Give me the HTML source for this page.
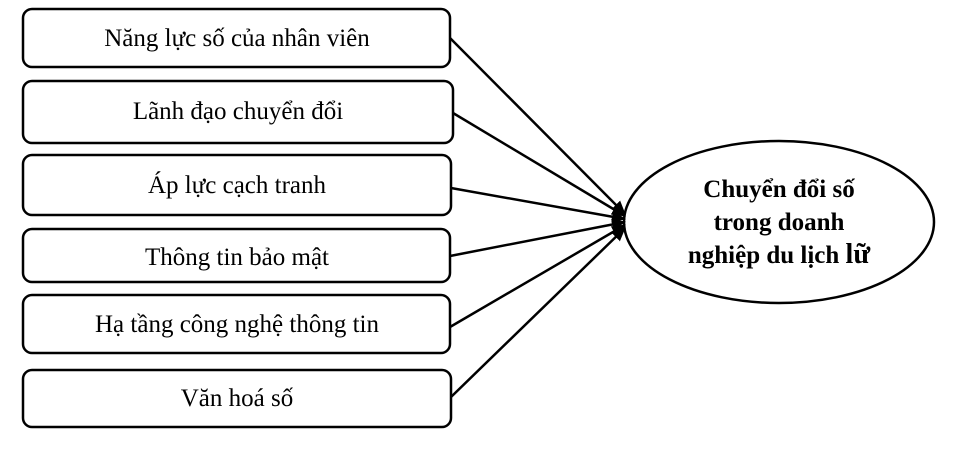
<!DOCTYPE html>
<html><head><meta charset="utf-8"><style>
html,body{margin:0;padding:0;background:#fff;}
svg{display:block;}
text{font-family:"Liberation Serif",serif;fill:#000;}
</style></head><body>
<svg width="963" height="468" viewBox="0 0 963 468">
<defs><marker id="a" markerWidth="14" markerHeight="12" refX="13" refY="6" orient="auto" markerUnits="userSpaceOnUse"><path d="M0,0 L14,6 L0,12 z" fill="#000"/></marker></defs>
<g fill="#fff" stroke="#000" stroke-width="2.5">
<rect x="23" y="9" width="427" height="58" rx="9"/>
<rect x="23" y="81" width="430" height="62" rx="9"/>
<rect x="23" y="155" width="428" height="60" rx="9"/>
<rect x="23" y="229" width="427" height="53" rx="9"/>
<rect x="23" y="295" width="427" height="58" rx="9"/>
<rect x="23" y="370" width="428" height="57" rx="9"/>
<ellipse cx="779" cy="222" rx="155" ry="81"/>
</g>
<g stroke="#000" stroke-width="2.5" marker-end="url(#a)">
<line x1="450" y1="38" x2="625" y2="214"/>
<line x1="453" y1="113" x2="625" y2="216"/>
<line x1="451" y1="188" x2="625" y2="219"/>
<line x1="450" y1="256" x2="625" y2="222"/>
<line x1="450" y1="327" x2="625" y2="225"/>
<line x1="451" y1="397" x2="625" y2="228"/>
</g>
<g font-size="25" text-anchor="middle">
<text x="237" y="46">Năng lực số của nhân viên</text>
<text x="238" y="119">Lãnh đạo chuyển đổi</text>
<text x="237" y="193">Áp lực cạch tranh</text>
<text x="237" y="265">Thông tin bảo mật</text>
<text x="237" y="332">Hạ tầng công nghệ thông tin</text>
<text x="237" y="406">Văn hoá số</text>
</g>
<g font-size="25" font-weight="bold" text-anchor="middle">
<text x="779" y="197">Chuyển đổi số</text>
<text x="779" y="230">trong doanh</text>
<text x="779" y="263">nghiệp du lịch <tspan font-size="28">lữ</tspan></text>
</g>
</svg>
</body></html>
